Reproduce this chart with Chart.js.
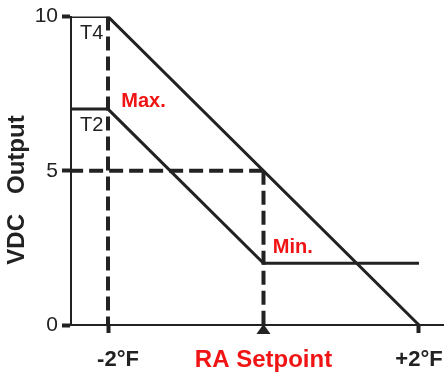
<!DOCTYPE html>
<html>
<head>
<meta charset="utf-8">
<script src="https://cdn.jsdelivr.net/npm/chart.js@4/dist/chart.umd.min.js"></script>
<style>
  html, body { margin: 0; padding: 0; background: #fff; }
  #wrap { width: 447px; height: 381px; }
</style>
</head>
<body>
<div id="wrap"><canvas id="chart" width="447" height="381"></canvas></div>
<script>
// ===== DATOS =====
const t4X = [-2.5, -2, 2];
const t4Y = [10, 10, 0];
const t2X = [-2.5, -2, 0, 2];
const t2Y = [7, 7, 2, 2];

const guideMaxX = [-2, -2];
const guideMaxY = [10, 0];
const guideMidX = [0, 0];
const guideMidY = [5, 0];
const guideHalfX = [-2.5, 0];
const guideHalfY = [5, 5];

const yTicks = [0, 5, 10];
const xTicks = [-2, 0, 2];
const xTickLabels = ['-2°F', 'RA Setpoint', '+2°F'];
const yTitle = 'VDC   Output';

const INK = '#222222';
const RED = '#f01414';
const FONT = '"Liberation Sans", Arial, Helvetica, sans-serif';

function toPoints(xs, ys) {
  return xs.map(function(x, i) { return { x: x, y: ys[i] }; });
}

// ===== PLUGIN: textos y triángulo =====
const decorPlugin = {
  id: 'decor',
  afterDraw: function(chart) {
    const ctx = chart.ctx;
    const xs = chart.scales.x;
    const ys = chart.scales.y;
    const area = chart.chartArea;

    ctx.save();

    // etiquetas del eje X
    const nudges = [10, 0, 0];
    xTicks.forEach(function(v, i) {
      const isSetpoint = v === 0;
      ctx.font = 'bold ' + (isSetpoint ? 24 : 22) + 'px ' + FONT;
      ctx.fillStyle = isSetpoint ? RED : INK;
      ctx.textAlign = 'center';
      ctx.textBaseline = 'middle';
      ctx.fillText(xTickLabels[i], xs.getPixelForValue(v) + nudges[i], 360);
    });

    // triángulo del setpoint
    const sx = xs.getPixelForValue(0);
    const sy = area.bottom;
    ctx.fillStyle = INK;
    ctx.beginPath();
    ctx.moveTo(sx, sy - 1);
    ctx.lineTo(sx + 7, sy + 9);
    ctx.lineTo(sx - 7, sy + 9);
    ctx.closePath();
    ctx.fill();

    // título del eje Y
    ctx.translate(17, 190);
    ctx.rotate(-Math.PI / 2);
    ctx.font = 'bold 24px ' + FONT;
    ctx.fillStyle = INK;
    ctx.textAlign = 'center';
    ctx.textBaseline = 'middle';
    ctx.fillText(yTitle, 0, 0);
    ctx.setTransform(1, 0, 0, 1, 0, 0);

    // anotaciones dentro del área
    const notes = [
      { text: 'T4', x: -2.36, y: 9.45, font: '20px ', color: INK },
      { text: 'T2', x: -2.36, y: 6.48, font: '20px ', color: INK },
      { text: 'Max.', x: -1.83, y: 7.26, font: 'bold 20px ', color: RED },
      { text: 'Min.', x: 0.12, y: 2.5, font: 'bold 20px ', color: RED }
    ];
    notes.forEach(function(n) {
      ctx.font = n.font + FONT;
      ctx.fillStyle = n.color;
      ctx.textAlign = 'left';
      ctx.textBaseline = 'middle';
      ctx.fillText(n.text, xs.getPixelForValue(n.x), ys.getPixelForValue(n.y));
    });

    ctx.restore();
  }
};

// ===== GRÁFICO =====
const solid = { borderColor: INK, borderWidth: 3, pointRadius: 0, fill: false, tension: 0 };
const dashed = { borderColor: INK, borderWidth: 4, borderDash: [14, 6], pointRadius: 0, fill: false, tension: 0 };

new Chart(document.getElementById('chart'), {
  type: 'line',
  data: {
    datasets: [
      Object.assign({ label: 'T4', data: toPoints(t4X, t4Y) }, solid),
      Object.assign({ label: 'T2', data: toPoints(t2X, t2Y) }, solid),
      Object.assign({ label: 'g1', data: toPoints(guideMaxX, guideMaxY) }, dashed),
      Object.assign({ label: 'g2', data: toPoints(guideMidX, guideMidY) }, dashed),
      Object.assign({ label: 'g3', data: toPoints(guideHalfX, guideHalfY) }, dashed)
    ]
  },
  options: {
    responsive: false,
    animation: false,
    events: [],
    layout: { padding: { top: 15, right: 4, left: 0, bottom: 0 } },
    plugins: { legend: { display: false }, tooltip: { enabled: false } },
    scales: {
      x: {
        type: 'linear',
        min: -2.476,
        max: 2.309,
        afterBuildTicks: function(scale) {
          scale.ticks = xTicks.map(function(v) { return { value: v }; });
        },
        afterFit: function(scale) { scale.height = 56; },
        border: { color: INK, width: 2 },
        grid: {
          drawOnChartArea: false,
          drawTicks: true,
          tickLength: 8,
          tickWidth: 4,
          tickColor: function(c) { return c.tick && c.tick.value === 0 ? 'rgba(0,0,0,0)' : INK; }
        },
        ticks: { display: false }
      },
      y: {
        type: 'linear',
        min: 0,
        max: 10,
        afterBuildTicks: function(scale) {
          scale.ticks = yTicks.map(function(v) { return { value: v }; });
        },
        afterFit: function(scale) { scale.width = 71; },
        border: { color: INK, width: 2 },
        grid: {
          drawOnChartArea: false,
          drawTicks: true,
          tickLength: 9,
          tickWidth: 4,
          tickColor: INK
        },
        ticks: {
          color: INK,
          padding: 4,
          font: { family: FONT, size: 21 }
        }
      }
    }
  },
  plugins: [decorPlugin]
});
</script>
</body>
</html>
